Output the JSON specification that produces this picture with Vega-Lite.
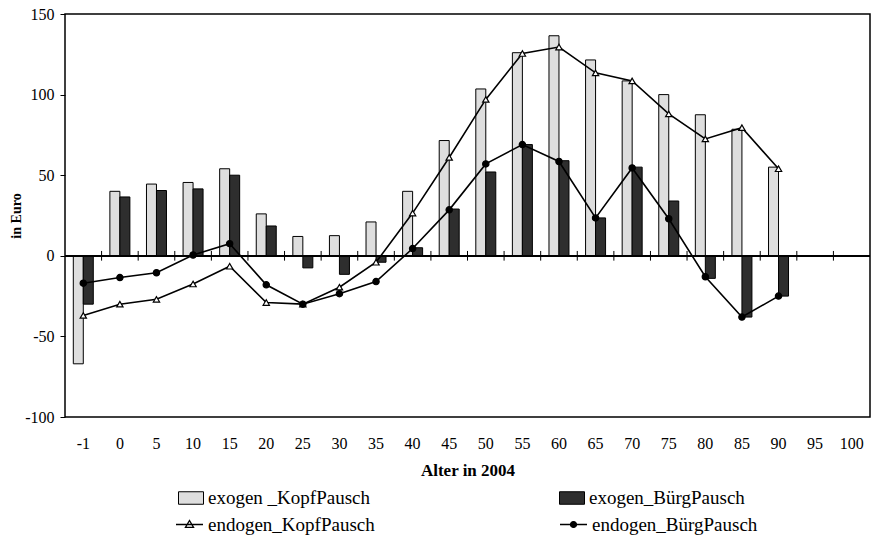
{
  "$schema": "https://vega.github.io/schema/vega-lite/v6.json",
  "width": 805,
  "height": 403,
  "autosize": {"type": "none"},
  "padding": {"left": 65, "top": 14, "right": 3, "bottom": 118},
  "background": "white",
  "config": {
    "font": "Liberation Serif",
    "view": {"stroke": "black", "strokeWidth": 1.5},
    "axis": {"grid": false, "labelColor": "black", "titleColor": "black", "tickColor": "black", "domainColor": "black"},
    "legend": {"labelFont": "Liberation Serif", "labelColor": "black", "labelLimit": 400}
  },
  "datasets": {
    "werte": [
      {"Alter": "-1", "Reihe": "exogen _KopfPausch", "Wert": -67},
      {"Alter": "-1", "Reihe": "exogen_BürgPausch", "Wert": -30},
      {"Alter": "-1", "Reihe": "endogen_KopfPausch", "Wert": -37},
      {"Alter": "-1", "Reihe": "endogen_BürgPausch", "Wert": -17},
      {"Alter": "0", "Reihe": "exogen _KopfPausch", "Wert": 40},
      {"Alter": "0", "Reihe": "exogen_BürgPausch", "Wert": 36.5},
      {"Alter": "0", "Reihe": "endogen_KopfPausch", "Wert": -30},
      {"Alter": "0", "Reihe": "endogen_BürgPausch", "Wert": -13.5},
      {"Alter": "5", "Reihe": "exogen _KopfPausch", "Wert": 44.5},
      {"Alter": "5", "Reihe": "exogen_BürgPausch", "Wert": 40.5},
      {"Alter": "5", "Reihe": "endogen_KopfPausch", "Wert": -27},
      {"Alter": "5", "Reihe": "endogen_BürgPausch", "Wert": -10.5},
      {"Alter": "10", "Reihe": "exogen _KopfPausch", "Wert": 45.5},
      {"Alter": "10", "Reihe": "exogen_BürgPausch", "Wert": 41.5},
      {"Alter": "10", "Reihe": "endogen_KopfPausch", "Wert": -17.5},
      {"Alter": "10", "Reihe": "endogen_BürgPausch", "Wert": 0.5},
      {"Alter": "15", "Reihe": "exogen _KopfPausch", "Wert": 54},
      {"Alter": "15", "Reihe": "exogen_BürgPausch", "Wert": 50},
      {"Alter": "15", "Reihe": "endogen_KopfPausch", "Wert": -6.5},
      {"Alter": "15", "Reihe": "endogen_BürgPausch", "Wert": 7.5},
      {"Alter": "20", "Reihe": "exogen _KopfPausch", "Wert": 26},
      {"Alter": "20", "Reihe": "exogen_BürgPausch", "Wert": 18.5},
      {"Alter": "20", "Reihe": "endogen_KopfPausch", "Wert": -29},
      {"Alter": "20", "Reihe": "endogen_BürgPausch", "Wert": -18},
      {"Alter": "25", "Reihe": "exogen _KopfPausch", "Wert": 12},
      {"Alter": "25", "Reihe": "exogen_BürgPausch", "Wert": -7.5},
      {"Alter": "25", "Reihe": "endogen_KopfPausch", "Wert": -30},
      {"Alter": "25", "Reihe": "endogen_BürgPausch", "Wert": -30},
      {"Alter": "30", "Reihe": "exogen _KopfPausch", "Wert": 12.5},
      {"Alter": "30", "Reihe": "exogen_BürgPausch", "Wert": -11.5},
      {"Alter": "30", "Reihe": "endogen_KopfPausch", "Wert": -19.5},
      {"Alter": "30", "Reihe": "endogen_BürgPausch", "Wert": -23.5},
      {"Alter": "35", "Reihe": "exogen _KopfPausch", "Wert": 21},
      {"Alter": "35", "Reihe": "exogen_BürgPausch", "Wert": -4},
      {"Alter": "35", "Reihe": "endogen_KopfPausch", "Wert": -4},
      {"Alter": "35", "Reihe": "endogen_BürgPausch", "Wert": -16},
      {"Alter": "40", "Reihe": "exogen _KopfPausch", "Wert": 40},
      {"Alter": "40", "Reihe": "exogen_BürgPausch", "Wert": 5},
      {"Alter": "40", "Reihe": "endogen_KopfPausch", "Wert": 26.5},
      {"Alter": "40", "Reihe": "endogen_BürgPausch", "Wert": 4.5},
      {"Alter": "45", "Reihe": "exogen _KopfPausch", "Wert": 71.5},
      {"Alter": "45", "Reihe": "exogen_BürgPausch", "Wert": 29},
      {"Alter": "45", "Reihe": "endogen_KopfPausch", "Wert": 61},
      {"Alter": "45", "Reihe": "endogen_BürgPausch", "Wert": 28.5},
      {"Alter": "50", "Reihe": "exogen _KopfPausch", "Wert": 103.5},
      {"Alter": "50", "Reihe": "exogen_BürgPausch", "Wert": 52},
      {"Alter": "50", "Reihe": "endogen_KopfPausch", "Wert": 97},
      {"Alter": "50", "Reihe": "endogen_BürgPausch", "Wert": 57},
      {"Alter": "55", "Reihe": "exogen _KopfPausch", "Wert": 126},
      {"Alter": "55", "Reihe": "exogen_BürgPausch", "Wert": 69},
      {"Alter": "55", "Reihe": "endogen_KopfPausch", "Wert": 125.5},
      {"Alter": "55", "Reihe": "endogen_BürgPausch", "Wert": 69},
      {"Alter": "60", "Reihe": "exogen _KopfPausch", "Wert": 136.5},
      {"Alter": "60", "Reihe": "exogen_BürgPausch", "Wert": 59},
      {"Alter": "60", "Reihe": "endogen_KopfPausch", "Wert": 129.5},
      {"Alter": "60", "Reihe": "endogen_BürgPausch", "Wert": 58.5},
      {"Alter": "65", "Reihe": "exogen _KopfPausch", "Wert": 121.5},
      {"Alter": "65", "Reihe": "exogen_BürgPausch", "Wert": 23.5},
      {"Alter": "65", "Reihe": "endogen_KopfPausch", "Wert": 113.5},
      {"Alter": "65", "Reihe": "endogen_BürgPausch", "Wert": 23.5},
      {"Alter": "70", "Reihe": "exogen _KopfPausch", "Wert": 108.5},
      {"Alter": "70", "Reihe": "exogen_BürgPausch", "Wert": 55},
      {"Alter": "70", "Reihe": "endogen_KopfPausch", "Wert": 108.5},
      {"Alter": "70", "Reihe": "endogen_BürgPausch", "Wert": 54.5},
      {"Alter": "75", "Reihe": "exogen _KopfPausch", "Wert": 100},
      {"Alter": "75", "Reihe": "exogen_BürgPausch", "Wert": 34},
      {"Alter": "75", "Reihe": "endogen_KopfPausch", "Wert": 88},
      {"Alter": "75", "Reihe": "endogen_BürgPausch", "Wert": 23},
      {"Alter": "80", "Reihe": "exogen _KopfPausch", "Wert": 87.5},
      {"Alter": "80", "Reihe": "exogen_BürgPausch", "Wert": -14},
      {"Alter": "80", "Reihe": "endogen_KopfPausch", "Wert": 72.5},
      {"Alter": "80", "Reihe": "endogen_BürgPausch", "Wert": -13},
      {"Alter": "85", "Reihe": "exogen _KopfPausch", "Wert": 78.5},
      {"Alter": "85", "Reihe": "exogen_BürgPausch", "Wert": -38},
      {"Alter": "85", "Reihe": "endogen_KopfPausch", "Wert": 79.5},
      {"Alter": "85", "Reihe": "endogen_BürgPausch", "Wert": -38},
      {"Alter": "90", "Reihe": "exogen _KopfPausch", "Wert": 55},
      {"Alter": "90", "Reihe": "exogen_BürgPausch", "Wert": -25},
      {"Alter": "90", "Reihe": "endogen_KopfPausch", "Wert": 54},
      {"Alter": "90", "Reihe": "endogen_BürgPausch", "Wert": -25}
    ],
    "grenzen": [
      {"Alter": "0"}, {"Alter": "5"}, {"Alter": "10"}, {"Alter": "15"}, {"Alter": "20"},
      {"Alter": "25"}, {"Alter": "30"}, {"Alter": "35"}, {"Alter": "40"}, {"Alter": "45"},
      {"Alter": "50"}, {"Alter": "55"}, {"Alter": "60"}, {"Alter": "65"}, {"Alter": "70"},
      {"Alter": "75"}, {"Alter": "80"}, {"Alter": "85"}, {"Alter": "90"}, {"Alter": "95"},
      {"Alter": "100"}
    ]
  },
  "data": {"name": "werte"},
  "resolve": {"scale": {"fill": "independent", "stroke": "independent"}},
  "layer": [
    {
      "transform": [{"filter": "indexof(datum.Reihe, 'exogen') === 0"}],
      "mark": {"type": "bar", "stroke": "black", "strokeWidth": 1},
      "encoding": {
        "x": {
          "field": "Alter", "type": "nominal",
          "scale": {"domain": ["-1","0","5","10","15","20","25","30","35","40","45","50","55","60","65","70","75","80","85","90","95","100"], "paddingInner": 0, "paddingOuter": 0},
          "axis": {"orient": "bottom", "title": "Alter in 2004", "labelAngle": 0, "ticks": false, "tickSize": 0, "domain": false, "labelPadding": 18, "labelFontSize": 16, "titleFontSize": 17, "titleFontWeight": "bold", "titlePadding": 11}
        },
        "xOffset": {"field": "Reihe", "type": "nominal", "scale": {"domain": ["exogen _KopfPausch", "exogen_BürgPausch"], "paddingOuter": 0.83, "paddingInner": 0}},
        "y": {
          "field": "Wert", "type": "quantitative",
          "scale": {"domain": [-100, 150], "nice": false},
          "axis": {"values": [-100, -50, 0, 50, 100, 150], "labelExpr": "datum.value < 0 ? '-' + abs(datum.value) : '' + datum.value", "title": "in Euro", "titleFontSize": 14, "titleFontWeight": "bold", "labelFontSize": 16, "tickSize": 5, "labelPadding": 6, "domain": false, "titlePadding": 1}
        },
        "fill": {
          "field": "Reihe", "type": "nominal",
          "scale": {"domain": ["exogen _KopfPausch", "exogen_BürgPausch"], "range": ["#dedede", "#2e2e2e"]},
          "legend": {"title": null, "orient": "none", "legendX": 113, "legendY": 471, "direction": "horizontal", "columns": 2, "columnPadding": 187, "gridAlign": "all", "symbolType": "M-1,-0.5H1V0.5H-1Z", "symbolSize": 625, "symbolStrokeColor": "black", "symbolStrokeWidth": 1, "labelFontSize": 19, "labelOffset": 4}
        }
      }
    },
    {
      "mark": {"type": "rule", "color": "black", "strokeWidth": 1},
      "encoding": {"y": {"datum": 0}}
    },
    {
      "data": {"name": "grenzen"},
      "mark": {"type": "rule", "color": "black", "strokeWidth": 1},
      "encoding": {
        "x": {"field": "Alter", "type": "nominal", "bandPosition": 0},
        "y": {"datum": -3},
        "y2": {"datum": 3}
      }
    },
    {
      "transform": [{"filter": "datum.Reihe === 'endogen_KopfPausch'"}],
      "mark": {"type": "line", "strokeWidth": 1.6},
      "encoding": {
        "x": {"field": "Alter", "type": "nominal"},
        "y": {"field": "Wert", "type": "quantitative"},
        "stroke": {
          "field": "Reihe", "type": "nominal",
          "scale": {"domain": ["endogen_KopfPausch"], "range": ["black"]},
          "legend": {"title": null, "orient": "none", "legendX": 110, "legendY": 496, "symbolType": "M-1,0H1M0,-0.3L0.3,0.22L-0.3,0.22Z", "symbolSize": 729, "symbolFillColor": "white", "symbolStrokeColor": "black", "symbolStrokeWidth": 1.3, "labelFontSize": 19, "labelOffset": 4}
        }
      }
    },
    {
      "transform": [{"filter": "datum.Reihe === 'endogen_BürgPausch'"}],
      "mark": {"type": "line", "strokeWidth": 1.6},
      "encoding": {
        "x": {"field": "Alter", "type": "nominal"},
        "y": {"field": "Wert", "type": "quantitative"},
        "stroke": {
          "field": "Reihe", "type": "nominal",
          "scale": {"domain": ["endogen_BürgPausch"], "range": ["black"]},
          "legend": {"title": null, "orient": "none", "legendX": 494, "legendY": 496, "symbolType": "M-1,0H1M0.22,0A0.22,0.22 0 1,1 -0.22,0A0.22,0.22 0 1,1 0.22,0Z", "symbolSize": 729, "symbolFillColor": "black", "symbolStrokeColor": "black", "symbolStrokeWidth": 1.3, "labelFontSize": 19, "labelOffset": 4}
        }
      }
    },
    {
      "transform": [{"filter": "indexof(datum.Reihe, 'endogen') === 0"}],
      "mark": {"type": "point", "stroke": "black", "strokeWidth": 1.2, "opacity": 1, "size": 40, "filled": false},
      "encoding": {
        "x": {"field": "Alter", "type": "nominal"},
        "y": {"field": "Wert", "type": "quantitative"},
        "shape": {
          "field": "Reihe", "type": "nominal",
          "scale": {"domain": ["endogen_KopfPausch", "endogen_BürgPausch"], "range": ["triangle-up", "circle"]},
          "legend": null
        },
        "fill": {
          "field": "Reihe", "type": "nominal",
          "scale": {"domain": ["endogen_KopfPausch", "endogen_BürgPausch"], "range": ["white", "black"]},
          "legend": null
        }
      }
    }
  ]
}
